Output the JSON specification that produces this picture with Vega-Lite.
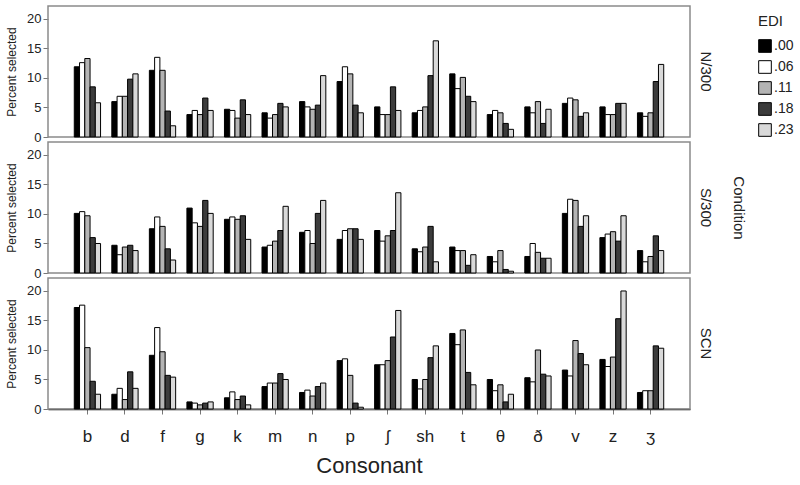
{
  "$schema": "https://vega.github.io/schema/vega-lite/v6.json",
  "padding": {"left": 5, "top": 5, "right": 5, "bottom": 5},
  "background": "white",
  "spacing": {"row": 5},
  "bounds": "flush",
  "config": {
    "font": "Liberation Sans",
    "view": {"stroke": "#8a8a8a", "strokeWidth": 1.5},
    "axis": {"grid": false, "labelColor": "#222", "titleColor": "#222", "tickColor": "#777", "domainColor": "#111"}
  },
  "data": {"values": [
    {"cond":"N/300","c":"b","edi":".00","v":11.9},{"cond":"N/300","c":"b","edi":".06","v":12.6},{"cond":"N/300","c":"b","edi":".11","v":13.3},{"cond":"N/300","c":"b","edi":".18","v":8.5},{"cond":"N/300","c":"b","edi":".23","v":5.8},
    {"cond":"N/300","c":"d","edi":".00","v":6.0},{"cond":"N/300","c":"d","edi":".06","v":6.9},{"cond":"N/300","c":"d","edi":".11","v":6.9},{"cond":"N/300","c":"d","edi":".18","v":9.8},{"cond":"N/300","c":"d","edi":".23","v":10.7},
    {"cond":"N/300","c":"f","edi":".00","v":11.3},{"cond":"N/300","c":"f","edi":".06","v":13.5},{"cond":"N/300","c":"f","edi":".11","v":11.3},{"cond":"N/300","c":"f","edi":".18","v":4.4},{"cond":"N/300","c":"f","edi":".23","v":1.9},
    {"cond":"N/300","c":"g","edi":".00","v":3.8},{"cond":"N/300","c":"g","edi":".06","v":4.5},{"cond":"N/300","c":"g","edi":".11","v":3.8},{"cond":"N/300","c":"g","edi":".18","v":6.6},{"cond":"N/300","c":"g","edi":".23","v":4.5},
    {"cond":"N/300","c":"k","edi":".00","v":4.7},{"cond":"N/300","c":"k","edi":".06","v":4.5},{"cond":"N/300","c":"k","edi":".11","v":3.2},{"cond":"N/300","c":"k","edi":".18","v":6.3},{"cond":"N/300","c":"k","edi":".23","v":3.8},
    {"cond":"N/300","c":"m","edi":".00","v":4.1},{"cond":"N/300","c":"m","edi":".06","v":3.2},{"cond":"N/300","c":"m","edi":".11","v":3.8},{"cond":"N/300","c":"m","edi":".18","v":5.7},{"cond":"N/300","c":"m","edi":".23","v":5.1},
    {"cond":"N/300","c":"n","edi":".00","v":6.0},{"cond":"N/300","c":"n","edi":".06","v":5.1},{"cond":"N/300","c":"n","edi":".11","v":4.7},{"cond":"N/300","c":"n","edi":".18","v":5.4},{"cond":"N/300","c":"n","edi":".23","v":10.4},
    {"cond":"N/300","c":"p","edi":".00","v":9.4},{"cond":"N/300","c":"p","edi":".06","v":11.9},{"cond":"N/300","c":"p","edi":".11","v":10.7},{"cond":"N/300","c":"p","edi":".18","v":5.4},{"cond":"N/300","c":"p","edi":".23","v":4.1},
    {"cond":"N/300","c":"ʃ","edi":".00","v":5.1},{"cond":"N/300","c":"ʃ","edi":".06","v":3.8},{"cond":"N/300","c":"ʃ","edi":".11","v":3.8},{"cond":"N/300","c":"ʃ","edi":".18","v":8.5},{"cond":"N/300","c":"ʃ","edi":".23","v":4.5},
    {"cond":"N/300","c":"sh","edi":".00","v":4.1},{"cond":"N/300","c":"sh","edi":".06","v":4.5},{"cond":"N/300","c":"sh","edi":".11","v":5.1},{"cond":"N/300","c":"sh","edi":".18","v":10.4},{"cond":"N/300","c":"sh","edi":".23","v":16.3},
    {"cond":"N/300","c":"t","edi":".00","v":10.7},{"cond":"N/300","c":"t","edi":".06","v":8.2},{"cond":"N/300","c":"t","edi":".11","v":10.1},{"cond":"N/300","c":"t","edi":".18","v":6.9},{"cond":"N/300","c":"t","edi":".23","v":6.0},
    {"cond":"N/300","c":"θ","edi":".00","v":3.8},{"cond":"N/300","c":"θ","edi":".06","v":4.5},{"cond":"N/300","c":"θ","edi":".11","v":4.1},{"cond":"N/300","c":"θ","edi":".18","v":2.3},{"cond":"N/300","c":"θ","edi":".23","v":1.3},
    {"cond":"N/300","c":"ð","edi":".00","v":5.1},{"cond":"N/300","c":"ð","edi":".06","v":4.1},{"cond":"N/300","c":"ð","edi":".11","v":6.0},{"cond":"N/300","c":"ð","edi":".18","v":2.3},{"cond":"N/300","c":"ð","edi":".23","v":4.7},
    {"cond":"N/300","c":"v","edi":".00","v":5.7},{"cond":"N/300","c":"v","edi":".06","v":6.6},{"cond":"N/300","c":"v","edi":".11","v":6.3},{"cond":"N/300","c":"v","edi":".18","v":3.5},{"cond":"N/300","c":"v","edi":".23","v":4.1},
    {"cond":"N/300","c":"z","edi":".00","v":5.1},{"cond":"N/300","c":"z","edi":".06","v":3.8},{"cond":"N/300","c":"z","edi":".11","v":3.8},{"cond":"N/300","c":"z","edi":".18","v":5.7},{"cond":"N/300","c":"z","edi":".23","v":5.7},
    {"cond":"N/300","c":"ʒ","edi":".00","v":4.1},{"cond":"N/300","c":"ʒ","edi":".06","v":3.5},{"cond":"N/300","c":"ʒ","edi":".11","v":4.1},{"cond":"N/300","c":"ʒ","edi":".18","v":9.4},{"cond":"N/300","c":"ʒ","edi":".23","v":12.3},
    {"cond":"S/300","c":"b","edi":".00","v":10.1},{"cond":"S/300","c":"b","edi":".06","v":10.4},{"cond":"S/300","c":"b","edi":".11","v":9.7},{"cond":"S/300","c":"b","edi":".18","v":6.0},{"cond":"S/300","c":"b","edi":".23","v":5.0},
    {"cond":"S/300","c":"d","edi":".00","v":4.7},{"cond":"S/300","c":"d","edi":".06","v":3.1},{"cond":"S/300","c":"d","edi":".11","v":4.4},{"cond":"S/300","c":"d","edi":".18","v":4.7},{"cond":"S/300","c":"d","edi":".23","v":3.8},
    {"cond":"S/300","c":"f","edi":".00","v":7.5},{"cond":"S/300","c":"f","edi":".06","v":9.5},{"cond":"S/300","c":"f","edi":".11","v":7.9},{"cond":"S/300","c":"f","edi":".18","v":4.1},{"cond":"S/300","c":"f","edi":".23","v":2.2},
    {"cond":"S/300","c":"g","edi":".00","v":11.0},{"cond":"S/300","c":"g","edi":".06","v":8.5},{"cond":"S/300","c":"g","edi":".11","v":7.9},{"cond":"S/300","c":"g","edi":".18","v":12.3},{"cond":"S/300","c":"g","edi":".23","v":10.1},
    {"cond":"S/300","c":"k","edi":".00","v":9.1},{"cond":"S/300","c":"k","edi":".06","v":9.5},{"cond":"S/300","c":"k","edi":".11","v":9.1},{"cond":"S/300","c":"k","edi":".18","v":9.7},{"cond":"S/300","c":"k","edi":".23","v":5.7},
    {"cond":"S/300","c":"m","edi":".00","v":4.4},{"cond":"S/300","c":"m","edi":".06","v":4.7},{"cond":"S/300","c":"m","edi":".11","v":5.4},{"cond":"S/300","c":"m","edi":".18","v":7.2},{"cond":"S/300","c":"m","edi":".23","v":11.3},
    {"cond":"S/300","c":"n","edi":".00","v":6.9},{"cond":"S/300","c":"n","edi":".06","v":7.2},{"cond":"S/300","c":"n","edi":".11","v":5.0},{"cond":"S/300","c":"n","edi":".18","v":10.1},{"cond":"S/300","c":"n","edi":".23","v":12.3},
    {"cond":"S/300","c":"p","edi":".00","v":5.7},{"cond":"S/300","c":"p","edi":".06","v":7.2},{"cond":"S/300","c":"p","edi":".11","v":7.5},{"cond":"S/300","c":"p","edi":".18","v":7.5},{"cond":"S/300","c":"p","edi":".23","v":5.7},
    {"cond":"S/300","c":"ʃ","edi":".00","v":7.2},{"cond":"S/300","c":"ʃ","edi":".06","v":5.4},{"cond":"S/300","c":"ʃ","edi":".11","v":6.3},{"cond":"S/300","c":"ʃ","edi":".18","v":7.2},{"cond":"S/300","c":"ʃ","edi":".23","v":13.6},
    {"cond":"S/300","c":"sh","edi":".00","v":4.1},{"cond":"S/300","c":"sh","edi":".06","v":3.6},{"cond":"S/300","c":"sh","edi":".11","v":4.4},{"cond":"S/300","c":"sh","edi":".18","v":7.9},{"cond":"S/300","c":"sh","edi":".23","v":1.9},
    {"cond":"S/300","c":"t","edi":".00","v":4.4},{"cond":"S/300","c":"t","edi":".06","v":3.8},{"cond":"S/300","c":"t","edi":".11","v":3.8},{"cond":"S/300","c":"t","edi":".18","v":1.3},{"cond":"S/300","c":"t","edi":".23","v":3.1},
    {"cond":"S/300","c":"θ","edi":".00","v":2.8},{"cond":"S/300","c":"θ","edi":".06","v":1.9},{"cond":"S/300","c":"θ","edi":".11","v":3.8},{"cond":"S/300","c":"θ","edi":".18","v":0.6},{"cond":"S/300","c":"θ","edi":".23","v":0.3},
    {"cond":"S/300","c":"ð","edi":".00","v":2.8},{"cond":"S/300","c":"ð","edi":".06","v":5.0},{"cond":"S/300","c":"ð","edi":".11","v":3.5},{"cond":"S/300","c":"ð","edi":".18","v":2.5},{"cond":"S/300","c":"ð","edi":".23","v":2.5},
    {"cond":"S/300","c":"v","edi":".00","v":10.1},{"cond":"S/300","c":"v","edi":".06","v":12.5},{"cond":"S/300","c":"v","edi":".11","v":12.3},{"cond":"S/300","c":"v","edi":".18","v":7.9},{"cond":"S/300","c":"v","edi":".23","v":9.7},
    {"cond":"S/300","c":"z","edi":".00","v":6.0},{"cond":"S/300","c":"z","edi":".06","v":6.6},{"cond":"S/300","c":"z","edi":".11","v":7.0},{"cond":"S/300","c":"z","edi":".18","v":5.4},{"cond":"S/300","c":"z","edi":".23","v":9.7},
    {"cond":"S/300","c":"ʒ","edi":".00","v":3.8},{"cond":"S/300","c":"ʒ","edi":".06","v":1.9},{"cond":"S/300","c":"ʒ","edi":".11","v":2.8},{"cond":"S/300","c":"ʒ","edi":".18","v":6.3},{"cond":"S/300","c":"ʒ","edi":".23","v":3.8},
    {"cond":"SCN","c":"b","edi":".00","v":17.2},{"cond":"SCN","c":"b","edi":".06","v":17.6},{"cond":"SCN","c":"b","edi":".11","v":10.4},{"cond":"SCN","c":"b","edi":".18","v":4.7},{"cond":"SCN","c":"b","edi":".23","v":2.5},
    {"cond":"SCN","c":"d","edi":".00","v":2.5},{"cond":"SCN","c":"d","edi":".06","v":3.5},{"cond":"SCN","c":"d","edi":".11","v":1.6},{"cond":"SCN","c":"d","edi":".18","v":6.3},{"cond":"SCN","c":"d","edi":".23","v":3.5},
    {"cond":"SCN","c":"f","edi":".00","v":9.1},{"cond":"SCN","c":"f","edi":".06","v":13.8},{"cond":"SCN","c":"f","edi":".11","v":9.7},{"cond":"SCN","c":"f","edi":".18","v":5.7},{"cond":"SCN","c":"f","edi":".23","v":5.4},
    {"cond":"SCN","c":"g","edi":".00","v":1.2},{"cond":"SCN","c":"g","edi":".06","v":1.0},{"cond":"SCN","c":"g","edi":".11","v":0.7},{"cond":"SCN","c":"g","edi":".18","v":1.0},{"cond":"SCN","c":"g","edi":".23","v":1.2},
    {"cond":"SCN","c":"k","edi":".00","v":1.9},{"cond":"SCN","c":"k","edi":".06","v":2.9},{"cond":"SCN","c":"k","edi":".11","v":1.6},{"cond":"SCN","c":"k","edi":".18","v":2.2},{"cond":"SCN","c":"k","edi":".23","v":0.7},
    {"cond":"SCN","c":"m","edi":".00","v":3.8},{"cond":"SCN","c":"m","edi":".06","v":4.4},{"cond":"SCN","c":"m","edi":".11","v":4.4},{"cond":"SCN","c":"m","edi":".18","v":6.0},{"cond":"SCN","c":"m","edi":".23","v":5.0},
    {"cond":"SCN","c":"n","edi":".00","v":2.8},{"cond":"SCN","c":"n","edi":".06","v":3.2},{"cond":"SCN","c":"n","edi":".11","v":2.2},{"cond":"SCN","c":"n","edi":".18","v":3.8},{"cond":"SCN","c":"n","edi":".23","v":4.4},
    {"cond":"SCN","c":"p","edi":".00","v":8.2},{"cond":"SCN","c":"p","edi":".06","v":8.5},{"cond":"SCN","c":"p","edi":".11","v":5.7},{"cond":"SCN","c":"p","edi":".18","v":1.0},{"cond":"SCN","c":"p","edi":".23","v":0.3},
    {"cond":"SCN","c":"ʃ","edi":".00","v":7.5},{"cond":"SCN","c":"ʃ","edi":".06","v":7.5},{"cond":"SCN","c":"ʃ","edi":".11","v":8.2},{"cond":"SCN","c":"ʃ","edi":".18","v":12.2},{"cond":"SCN","c":"ʃ","edi":".23","v":16.7},
    {"cond":"SCN","c":"sh","edi":".00","v":5.0},{"cond":"SCN","c":"sh","edi":".06","v":3.4},{"cond":"SCN","c":"sh","edi":".11","v":5.0},{"cond":"SCN","c":"sh","edi":".18","v":8.7},{"cond":"SCN","c":"sh","edi":".23","v":10.7},
    {"cond":"SCN","c":"t","edi":".00","v":12.8},{"cond":"SCN","c":"t","edi":".06","v":10.9},{"cond":"SCN","c":"t","edi":".11","v":13.4},{"cond":"SCN","c":"t","edi":".18","v":6.2},{"cond":"SCN","c":"t","edi":".23","v":4.1},
    {"cond":"SCN","c":"θ","edi":".00","v":5.0},{"cond":"SCN","c":"θ","edi":".06","v":3.1},{"cond":"SCN","c":"θ","edi":".11","v":4.1},{"cond":"SCN","c":"θ","edi":".18","v":1.2},{"cond":"SCN","c":"θ","edi":".23","v":2.5},
    {"cond":"SCN","c":"ð","edi":".00","v":5.3},{"cond":"SCN","c":"ð","edi":".06","v":4.6},{"cond":"SCN","c":"ð","edi":".11","v":10.0},{"cond":"SCN","c":"ð","edi":".18","v":5.9},{"cond":"SCN","c":"ð","edi":".23","v":5.6},
    {"cond":"SCN","c":"v","edi":".00","v":6.6},{"cond":"SCN","c":"v","edi":".06","v":5.6},{"cond":"SCN","c":"v","edi":".11","v":11.6},{"cond":"SCN","c":"v","edi":".18","v":9.4},{"cond":"SCN","c":"v","edi":".23","v":7.5},
    {"cond":"SCN","c":"z","edi":".00","v":8.4},{"cond":"SCN","c":"z","edi":".06","v":7.2},{"cond":"SCN","c":"z","edi":".11","v":8.8},{"cond":"SCN","c":"z","edi":".18","v":15.3},{"cond":"SCN","c":"z","edi":".23","v":20.0},
    {"cond":"SCN","c":"ʒ","edi":".00","v":2.8},{"cond":"SCN","c":"ʒ","edi":".06","v":3.1},{"cond":"SCN","c":"ʒ","edi":".11","v":3.1},{"cond":"SCN","c":"ʒ","edi":".18","v":10.7},{"cond":"SCN","c":"ʒ","edi":".23","v":10.3}
  ]},
  "facet": {
    "row": {
      "field": "cond", "type": "nominal", "sort": ["N/300", "S/300", "SCN"], "title": "Condition",
      "header": {"labelOrient": "right", "labelAngle": 90, "labelFontSize": 15, "labelColor": "#222", "labelPadding": 8,
                 "titleOrient": "right", "titleAngle": 90, "titleFontSize": 15, "titleFontWeight": "normal", "titleColor": "#222", "titlePadding": 8}
    }
  },
  "spec": {
    "width": 642,
    "height": 131,
    "mark": {"type": "bar", "stroke": "#000", "strokeWidth": 1},
    "encoding": {
      "x": {"field": "c", "type": "nominal",
            "sort": ["b","d","f","g","k","m","n","p","ʃ","sh","t","θ","ð","v","z","ʒ"],
            "title": "Consonant",
            "scale": {"paddingInner": 0.3, "paddingOuter": 0.7},
            "axis": {"labelAngle": 0, "labelFontSize": 17, "labelPadding": 14, "tickSize": 5, "titleFontSize": 22, "titleFontWeight": "normal", "titlePadding": 11, "domainWidth": 1.5}},
      "xOffset": {"field": "edi", "type": "nominal", "sort": [".00",".06",".11",".18",".23"]},
      "y": {"field": "v", "type": "quantitative", "title": "Percent selected",
            "scale": {"domain": [0, 22.2], "nice": false},
            "axis": {"values": [0,5,10,15,20], "labelFontSize": 13, "tickSize": 5, "titleFontSize": 12, "titleFontWeight": "normal", "titlePadding": 8, "domain": false, "labelPadding": 2}},
      "fill": {"field": "edi", "type": "nominal", "title": "EDI",
               "sort": [".00",".06",".11",".18",".23"],
               "scale": {"range": ["#000000","#ffffff","#b4b4b4","#3c3c3c","#d9d9d9"]},
               "legend": {"orient": "none", "legendX": 710, "legendY": 8, "titleFontSize": 15, "titleFontWeight": "normal", "labelFontSize": 14, "symbolType": "square", "symbolSize": 160, "symbolStrokeColor": "#000", "symbolStrokeWidth": 1, "rowPadding": 3, "titlePadding": 10, "labelOffset": 2, "titleColor": "#222", "labelColor": "#222"}}
    }
  }
}
